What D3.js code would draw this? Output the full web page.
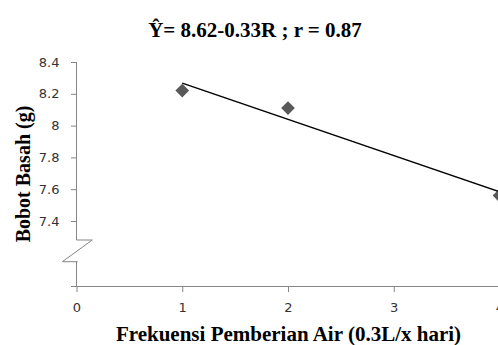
<!DOCTYPE html>
<html><head><meta charset="utf-8">
<script src="https://cdn.jsdelivr.net/npm/d3@7"></script>
<style>body{margin:0;background:#fff}svg{display:block}</style>
</head><body>
<script>
const xValues = [1, 2, 4];
const yValues = [8.22, 8.11, 7.56];
const xTicks = [0, 1, 2, 3, 4];
const yTicks = [7.4, 7.6, 7.8, 8.0, 8.2, 8.4];
const titleText = "Ŷ= 8.62-0.33R ; r = 0.87";
const xLabel = "Frekuensi Pemberian Air (0.3L/x hari)";
const yLabel = "Bobot Basah (g)";

const W = 498, H = 345;
const svg = d3.select("body").append("svg").attr("width", W).attr("height", H);

const x = d3.scaleLinear().domain([0, 4]).range([76.5, 499.5]);
const y = d3.scaleLinear().domain([7.4, 8.4]).range([221, 62]);
const xAxisY = 286;
const axisColor = "#868686";
const serif = "Liberation Serif, Times New Roman, serif";

// title
svg.append("text").attr("x", 255).attr("y", 37).attr("text-anchor", "middle")
  .attr("font-family", serif).attr("font-weight", "bold")
  .attr("font-size", 21).attr("fill", "#000").text(titleText);

// y axis ticks
const yAx = svg.append("g").attr("transform", `translate(${x(0)},0)`)
  .call(d3.axisLeft(y).tickValues(yTicks).tickSize(5.5).tickSizeOuter(0)
    .tickFormat(d => d3.format("")(+d.toFixed(1))));
yAx.select(".domain").remove();
yAx.selectAll(".tick line").attr("stroke", axisColor);
yAx.selectAll(".tick text").attr("font-family", "DejaVu Sans, sans-serif").attr("font-size", 13)
  .attr("fill", "#333").attr("x", -17);
// axis line with break
const bx = x(0);
svg.append("path")
  .attr("d", `M${bx},${y(8.4)}V240H${bx+15.8}L${bx-14.2},261.7H${bx+1.2}M${bx},261.7V${xAxisY}`)
  .attr("fill", "none").attr("stroke", axisColor).attr("stroke-width", 1);

// x axis
const xAx = svg.append("g").attr("transform", `translate(0,${xAxisY})`)
  .call(d3.axisBottom(x).tickValues(xTicks).tickSize(6).tickSizeOuter(0).tickFormat(d3.format("d")));
xAx.select(".domain").attr("d", `M${x(0)-5.5},0.5H${W}`).attr("stroke", axisColor);
xAx.selectAll(".tick line").attr("stroke", axisColor);
xAx.selectAll(".tick text").attr("font-family", "DejaVu Sans, sans-serif").attr("font-size", 13)
  .attr("fill", "#333").attr("y", 17);

// axis labels
svg.append("text").attr("x", 288.5).attr("y", 341).attr("text-anchor", "middle")
  .attr("font-family", serif).attr("font-weight", "bold")
  .attr("font-size", 21).attr("fill", "#000").text(xLabel);
svg.append("text").attr("transform", "translate(30,174) rotate(-90)").attr("text-anchor", "middle")
  .attr("font-family", serif).attr("font-weight", "bold")
  .attr("font-size", 20).attr("fill", "#000").text(yLabel);

// points
const pts = xValues.map((v, i) => [v, yValues[i]]);
svg.selectAll(".pt").data(pts).enter().append("path").attr("class", "pt")
  .attr("transform", d => `translate(${x(d[0])},${y(d[1])})`)
  .attr("d", d3.symbol(d3.symbolDiamond2, 120)())
  .attr("fill", "#595959");

// linear trend line (least squares on the data)
const mx = d3.mean(xValues), my = d3.mean(yValues);
const sxy = d3.sum(pts, d => (d[0]-mx)*(d[1]-my));
const sxx = d3.sum(xValues, v => (v-mx)*(v-mx));
const b = sxy/sxx, a = my - b*mx;
const x0 = d3.min(xValues), x1 = d3.max(xValues);
svg.append("line").attr("x1", x(x0)).attr("y1", y(a+b*x0)).attr("x2", x(x1)).attr("y2", y(a+b*x1))
  .attr("stroke", "#000").attr("stroke-width", 1.5);
</script>
</body></html>
